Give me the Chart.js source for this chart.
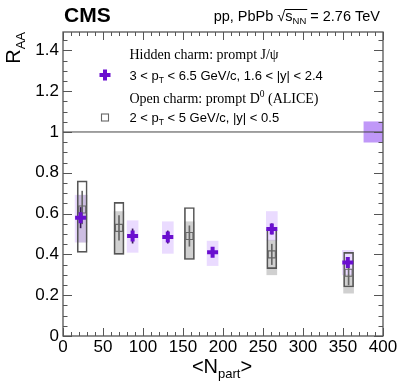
<!DOCTYPE html>
<html>
<head>
<meta charset="utf-8">
<script src="https://cdn.jsdelivr.net/npm/chart.js@4.4.1/dist/chart.umd.min.js"></script>
<style>
  html, body { margin: 0; padding: 0; background: #fff; }
  canvas { display: block; }
</style>
</head>
<body>
<canvas id="raaChart" width="399" height="383"></canvas>
<script>
// prompt J/psi (CMS), 3 < pT < 6.5 GeV/c, 1.6 < |y| < 2.4
const jpsiNpart  = [22, 87, 131, 187, 261, 356];
const jpsiRaa    = [0.58, 0.49, 0.485, 0.41, 0.525, 0.36];
const jpsiStatLo = [0.53, 0.455, 0.455, 0.39, 0.50, 0.34];
const jpsiStatHi = [0.63, 0.525, 0.515, 0.43, 0.55, 0.38];
const jpsiSystLo = [0.46, 0.41, 0.405, 0.345, 0.47, 0.30];
const jpsiSystHi = [0.69, 0.565, 0.56, 0.465, 0.61, 0.42];

// prompt D0 (ALICE), 2 < pT < 5 GeV/c, |y| < 0.5
const d0Npart  = [24, 70, 158, 261, 357];
const d0Raa    = [0.62, 0.53, 0.49, 0.40, 0.31];
const d0StatLo = [0.55, 0.47, 0.44, 0.35, 0.25];
const d0StatHi = [0.71, 0.59, 0.54, 0.45, 0.36];
const d0SystLo = [0.41, 0.40, 0.375, 0.33, 0.24];
const d0SystHi = [0.76, 0.655, 0.63, 0.525, 0.41];
const d0FeedLo = [0.46, 0.40, 0.375, 0.30, 0.21];
const d0FeedHi = [0.69, 0.61, 0.56, 0.47, 0.30];

// global uncertainty of J/psi and the unity line
const normNpart = [388];
const normLo = [0.95];
const normHi = [1.05];
const unityX = [0, 400];
const unityY = [1, 1];

const xTicks = [0, 50, 100, 150, 200, 250, 300, 350, 400];
const yTicks = [0, 0.2, 0.4, 0.6, 0.8, 1, 1.2, 1.4];

const SANS = '"Liberation Sans", Arial, Helvetica, sans-serif';
const SERIF = '"Liberation Serif", "Times New Roman", serif';

function floating(xs, lo, hi) {
    return xs.map((x, i) => ({ x: x, y: [lo[i], hi[i]] }));
}
function points(xs, ys) {
    return xs.map((x, i) => ({ x: x, y: ys[i] }));
}

// write a sequence of text pieces (for sub/superscripts)
function drawRuns(ctx, x, y, runs, align) {
    let total = 0;
    runs.forEach(r => {
        ctx.font = r.font;
        r.w = ctx.measureText(r.text).width;
        total += r.w;
    });
    let cx = align === 'right' ? x - total : (align === 'center' ? x - total / 2 : x);
    runs.forEach(r => {
        ctx.font = r.font;
        ctx.fillText(r.text, cx, y + (r.dy || 0));
        r.x = cx;
        cx += r.w;
    });
    return runs;
}

// frame with ROOT style ticks pointing inwards
function drawFrame(chart) {
    const ctx = chart.ctx;
    const a = chart.chartArea;
    const xs = chart.scales.x, ys = chart.scales.y;
    ctx.save();
    ctx.strokeStyle = '#555';
    ctx.lineWidth = 1.3;
    ctx.strokeRect(a.left, a.top, a.right - a.left, a.bottom - a.top);
    ctx.lineWidth = 1;
    ctx.beginPath();
    for (let v = 0; v <= 400; v += 10) {
        const px = Math.round(xs.getPixelForValue(v)) + 0.5;
        const len = v % 50 === 0 ? 8 : 4;
        ctx.moveTo(px, a.bottom); ctx.lineTo(px, a.bottom - len);
        ctx.moveTo(px, a.top); ctx.lineTo(px, a.top + len);
    }
    for (let k = 0; k <= 29; k++) {
        const py = Math.round(ys.getPixelForValue(k * 0.05)) + 0.5;
        const len = k % 4 === 0 ? 9 : 4.5;
        ctx.moveTo(a.left, py); ctx.lineTo(a.left + len, py);
        ctx.moveTo(a.right, py); ctx.lineTo(a.right - len, py);
    }
    ctx.stroke();
    ctx.restore();
}

function drawTexts(chart) {
    const ctx = chart.ctx;
    ctx.save();
    ctx.fillStyle = '#000';
    ctx.textBaseline = 'alphabetic';
    ctx.textAlign = 'left';

    // CMS label
    ctx.font = 'bold 21px ' + SANS;
    ctx.fillText('CMS', 64, 22);

    // energy label with sqrt
    const runs = drawRuns(ctx, 380, 21, [
        { text: 'pp, PbPb ', font: '14.5px ' + SANS },
        { text: '\u221A', font: '14.5px ' + SANS },
        { text: 's', font: '14.5px ' + SANS },
        { text: 'NN', font: '9.5px ' + SANS, dy: 3 },
        { text: ' = 2.76 TeV', font: '14.5px ' + SANS }
    ], 'right');
    ctx.strokeStyle = '#000';
    ctx.lineWidth = 1;
    ctx.beginPath();
    ctx.moveTo(runs[1].x + runs[1].w - 0.5, 9.5);
    ctx.lineTo(runs[3].x + runs[3].w + 1, 9.5);
    ctx.stroke();

    // axis titles
    drawRuns(ctx, 222, 373, [
        { text: '<N', font: '20px ' + SANS },
        { text: 'part', font: '13px ' + SANS, dy: 5 },
        { text: '>', font: '20px ' + SANS }
    ], 'center');
    ctx.save();
    ctx.translate(19.5, 32);
    ctx.rotate(-Math.PI / 2);
    drawRuns(ctx, 0, 0, [
        { text: 'R', font: '20px ' + SANS },
        { text: 'AA', font: '13px ' + SANS, dy: 5 }
    ], 'right');
    ctx.restore();

    // legend
    const lx = 129.5;
    drawRuns(ctx, lx, 59, [
        { text: 'Hidden charm: prompt J/\u03C8', font: '14px ' + SERIF }
    ]);
    drawRuns(ctx, lx, 80, [
        { text: '3 < p', font: '13px ' + SANS },
        { text: 'T', font: '8.5px ' + SANS, dy: 3 },
        { text: ' < 6.5 GeV/c, 1.6 < |y| < 2.4', font: '13px ' + SANS }
    ]);
    drawRuns(ctx, lx, 102.5, [
        { text: 'Open charm: prompt D', font: '14px ' + SERIF },
        { text: '0', font: '9.5px ' + SERIF, dy: -6 },
        { text: ' (ALICE)', font: '14px ' + SERIF }
    ]);
    drawRuns(ctx, lx, 121.5, [
        { text: '2 < p', font: '13px ' + SANS },
        { text: 'T', font: '8.5px ' + SANS, dy: 3 },
        { text: ' < 5 GeV/c, |y| < 0.5', font: '13px ' + SANS }
    ]);

    // legend markers
    ctx.strokeStyle = '#6a0fcf';
    ctx.lineWidth = 4;
    ctx.beginPath();
    ctx.moveTo(99.5, 75); ctx.lineTo(110.5, 75);
    ctx.moveTo(105, 69.5); ctx.lineTo(105, 80.5);
    ctx.stroke();
    ctx.strokeStyle = '#666';
    ctx.lineWidth = 1.1;
    ctx.strokeRect(101.5, 114, 7, 7);
    ctx.restore();
}

const overlayPlugin = {
    id: 'rootOverlay',
    afterDraw(chart) {
        drawFrame(chart);
        drawTexts(chart);
    }
};

const ctx = document.getElementById('raaChart').getContext('2d');

new Chart(ctx, {
    type: 'scatter',
    data: {
        datasets: [
            {
                label: 'J/psi',
                type: 'scatter',
                data: points(jpsiNpart, jpsiRaa),
                pointStyle: 'cross',
                radius: 5.5,
                borderWidth: 4,
                borderColor: '#6a0fcf',
                backgroundColor: '#6a0fcf',
                order: 0
            },
            {
                label: 'D0',
                type: 'scatter',
                data: points(d0Npart, d0Raa),
                pointStyle: 'rect',
                radius: 5,
                borderWidth: 1.1,
                borderColor: '#666',
                backgroundColor: 'rgba(0,0,0,0)',
                order: 1
            },
            {
                label: 'J/psi stat',
                type: 'bar',
                data: floating(jpsiNpart, jpsiStatLo, jpsiStatHi),
                barThickness: 1,
                grouped: false,
                backgroundColor: '#3a1a5a',
                order: 2
            },
            {
                label: 'D0 stat',
                type: 'bar',
                data: floating(d0Npart, d0StatLo, d0StatHi),
                barThickness: 1,
                grouped: false,
                backgroundColor: '#666',
                order: 3
            },
            {
                label: 'D0 syst',
                type: 'bar',
                data: floating(d0Npart, d0SystLo, d0SystHi),
                barThickness: 10,
                grouped: false,
                backgroundColor: 'rgba(0,0,0,0)',
                borderColor: '#555',
                borderWidth: 1,
                borderSkipped: false,
                order: 4
            },
            {
                label: 'unity',
                type: 'line',
                data: points(unityX, unityY),
                borderColor: '#444',
                borderWidth: 1,
                pointRadius: 0,
                order: 5
            },
            {
                label: 'J/psi syst',
                type: 'bar',
                data: floating(jpsiNpart, jpsiSystLo, jpsiSystHi),
                barThickness: 11,
                grouped: false,
                backgroundColor: 'rgba(200,160,255,0.38)',
                order: 6
            },
            {
                label: 'D0 global',
                type: 'bar',
                data: floating(d0Npart, d0FeedLo, d0FeedHi),
                barThickness: 10,
                grouped: false,
                backgroundColor: 'rgba(150,150,150,0.45)',
                order: 7
            },
            {
                label: 'J/psi norm',
                type: 'bar',
                data: floating(normNpart, normLo, normHi),
                barThickness: 19,
                grouped: false,
                backgroundColor: 'rgb(192,152,248)',
                order: 8
            }
        ]
    },
    options: {
        responsive: false,
        animation: false,
        layout: { padding: { top: 32, right: 16, left: 0, bottom: 0 } },
        plugins: {
            legend: { display: false },
            tooltip: { enabled: false }
        },
        scales: {
            x: {
                type: 'linear',
                min: 0,
                max: 400,
                offset: false,
                grid: { display: false, drawTicks: false, offset: false },
                border: { display: false },
                afterBuildTicks: s => { s.ticks = xTicks.map(v => ({ value: v })); },
                afterFit: s => { s.height = 47; },
                ticks: {
                    padding: 1,
                    maxRotation: 0,
                    color: '#000',
                    font: { family: SANS, size: 17 }
                }
            },
            y: {
                type: 'linear',
                min: 0,
                max: 1.49,
                grid: { display: false, drawTicks: false },
                border: { display: false },
                afterBuildTicks: s => { s.ticks = yTicks.map(v => ({ value: v })); },
                afterFit: s => { s.width = 63; },
                ticks: {
                    padding: 4,
                    color: '#000',
                    font: { family: SANS, size: 17 },
                    callback: v => String(Math.round(v * 10) / 10)
                }
            }
        }
    },
    plugins: [overlayPlugin]
});
</script>
</body>
</html>
